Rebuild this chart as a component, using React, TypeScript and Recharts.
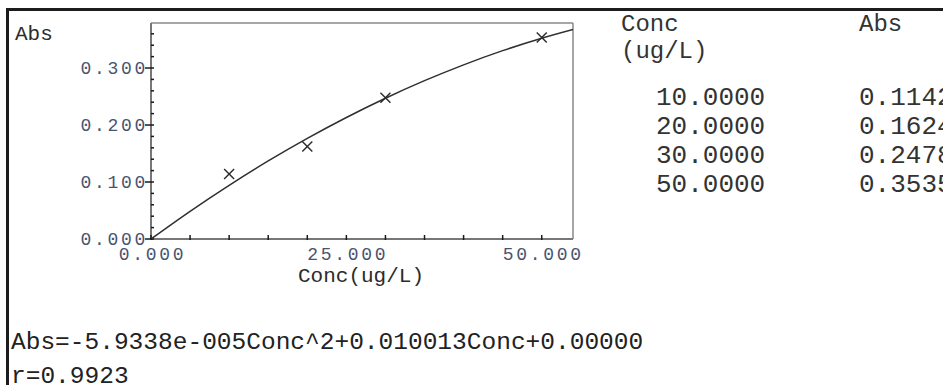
import React from 'react';
import { ComposedChart, Line, Scatter, XAxis, YAxis, ReferenceLine } from 'recharts';

// standards (Conc ug/L, Abs)
const concValues = [10, 20, 30, 50];
const absValues = [0.1142, 0.1624, 0.2478, 0.3535];

// fitted curve
const curveConc = [0, 5, 10, 15, 20, 25, 30, 35, 40, 45, 50, 54];
const curveAbs = [0, 0.0486, 0.0942, 0.1369, 0.1765, 0.2132, 0.247, 0.2778, 0.3056, 0.3305, 0.3523, 0.3676];

const xTicks = [0, 5, 10, 15, 20, 25, 30, 35, 40, 45, 50];
const xLabelTicks = [0, 25, 50];
const yTicks = [0, 0.02, 0.04, 0.06, 0.08, 0.1, 0.12, 0.14, 0.16, 0.18, 0.2, 0.22, 0.24, 0.26, 0.28, 0.3, 0.32, 0.34, 0.36];
const yLabelTicks = [0, 0.1, 0.2, 0.3];

const equation = 'Abs=-5.9338e-005Conc^2+0.010013Conc+0.00000';
const rText = 'r=0.9923';

const MONO = '"Courier New", "Liberation Mono", "DejaVu Sans Mono", monospace';
const TICK_COLOR = '#48546f';

const points = concValues.map((c, i) => ({ x: c, y: absValues[i] }));
const curve = curveConc.map((c, i) => ({ x: c, y: curveAbs[i] }));

const XTick = (props: any) => {
  const { x, y, payload } = props;
  const v = payload.value;
  const show = xLabelTicks.includes(v);
  return (
    <g>
      <line x1={x} x2={x} y1={y - 4} y2={y + 1} stroke="#1a1a1a" strokeWidth={1.5} />
      {show && (
        <text x={x + 1.4} y={y + 21} textAnchor="middle" fontFamily={MONO} fontSize={18}
          letterSpacing={2.7} fill={TICK_COLOR}>
          {v.toFixed(3)}
        </text>
      )}
    </g>
  );
};

const YTick = (props: any) => {
  const { x, y, payload } = props;
  const v = payload.value;
  const major = yLabelTicks.some(t => Math.abs(t - v) < 1e-9);
  return (
    <g>
      {major ? (
        <>
          <line x1={x - 6} x2={x + 3} y1={y} y2={y} stroke="#1a1a1a" strokeWidth={1.5} />
          <text x={x - 3} y={y + 5.5} textAnchor="end" fontFamily={MONO} fontSize={18}
            letterSpacing={2.7} fill={TICK_COLOR}>
            {v.toFixed(3)}
          </text>
        </>
      ) : (
        <line x1={x} x2={x + 3} y1={y} y2={y} stroke="#1a1a1a" strokeWidth={1.5} />
      )}
    </g>
  );
};

const XMark = (props: any) => {
  const { cx, cy } = props;
  const s = 5;
  return (
    <g stroke="#2a2a2a" strokeWidth={1.4}>
      <line x1={cx - s} y1={cy - s} x2={cx + s} y2={cy + s} />
      <line x1={cx - s} y1={cy + s} x2={cx + s} y2={cy - s} />
    </g>
  );
};

const tableRows = [105, 134, 163, 192];

export default function App() {
  return (
    <div style={{ position: 'absolute', left: 0, top: 0, width: 943, height: 385, background: '#fff', overflow: 'hidden' }}>
      <div style={{ position: 'absolute', left: 6, top: 8, width: 940, height: 380, borderTop: '3px solid #1c1c1c', borderLeft: '3px solid #1c1c1c' }} />
      <div style={{ position: 'absolute', left: 0, top: 0 }}>
        <ComposedChart width={943} height={385} margin={{ top: 23, right: 370, bottom: 116, left: 91 }}>
          <XAxis dataKey="x" type="number" domain={[0, 54]} ticks={xTicks} interval={0}
            tickSize={0} tickMargin={0} tick={<XTick />} height={30}
            axisLine={{ stroke: '#777', strokeWidth: 2 }} allowDataOverflow />
          <YAxis dataKey="y" type="number" domain={[0, 0.379]} ticks={yTicks} interval={0}
            tickSize={0} tickMargin={0} tick={<YTick />} width={60}
            axisLine={{ stroke: '#777', strokeWidth: 2 }} allowDataOverflow />
          <ReferenceLine x={54} stroke="#888" strokeWidth={1.5} />
          <ReferenceLine y={0.379} stroke="#888" strokeWidth={1.5} />
          <Line data={curve} dataKey="y" type="monotone" stroke="#2f2f2f" strokeWidth={1.5}
            dot={false} activeDot={false} isAnimationActive={false} />
          <Scatter data={points} dataKey="y" shape={<XMark />} isAnimationActive={false} />
        </ComposedChart>
      </div>
      <svg width={943} height={385} style={{ position: 'absolute', left: 0, top: 0, pointerEvents: 'none' }}>
        <text x={15} y={40} fontFamily={MONO} fontSize={21} fill="#2b2b2b">Abs</text>
        <text x={361} y={282} textAnchor="middle" fontFamily={MONO} fontSize={21} fill="#2b2b2b">Conc(ug/L)</text>

        <text x={621} y={31} fontFamily={MONO} fontSize={24} fill="#333">Conc</text>
        <text x={859} y={31} fontFamily={MONO} fontSize={24} fill="#333">Abs</text>
        <text x={621} y={58} fontFamily={MONO} fontSize={24} fill="#333">(ug/L)</text>
        {concValues.map((c, i) => (
          <text key={`c${i}`} x={656} y={tableRows[i]} fontFamily={MONO} fontSize={26} fill="#333">
            {c.toFixed(4)}
          </text>
        ))}
        {absValues.map((a, i) => (
          <text key={`a${i}`} x={859} y={tableRows[i]} fontFamily={MONO} fontSize={26} fill="#333">
            {a.toFixed(4)}
          </text>
        ))}

        <text x={11} y={349} fontFamily={MONO} fontSize={24.5} fill="#222">{equation}</text>
        <text x={11} y={383} fontFamily={MONO} fontSize={24.5} fill="#222">{rText}</text>
      </svg>
    </div>
  );
}
